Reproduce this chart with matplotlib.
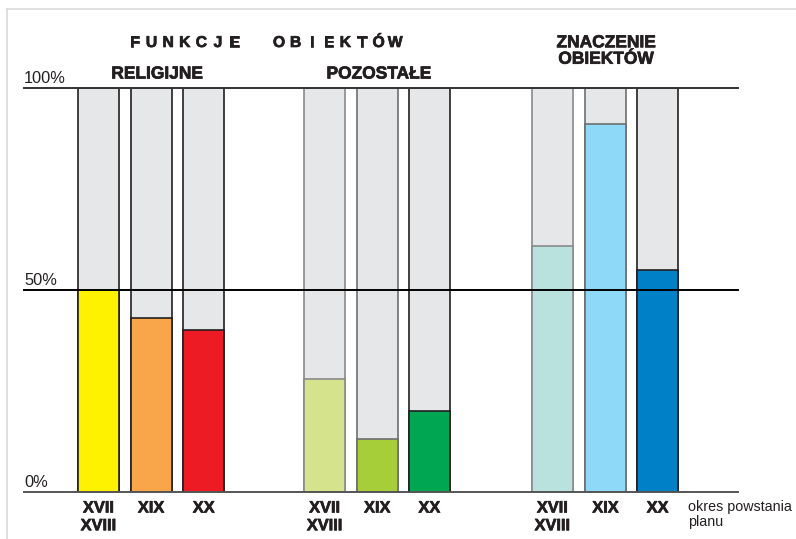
import matplotlib
matplotlib.use("Agg")
import matplotlib.pyplot as plt
from matplotlib.lines import Line2D
import matplotlib.patheffects as pe

plt.rcParams['font.family'] = ['Liberation Sans', 'DejaVu Sans']

# ---- data ----
periods = ["XVII\nXVIII", "XIX", "XX",
           "XVII\nXVIII", "XIX", "XX",
           "XVII\nXVIII", "XIX", "XX"]
values = [50, 43, 40, 28, 13, 20, 61, 91, 55]
group_titles = ["RELIGIJNE", "POZOSTAŁE", "ZNACZENIE\nOBIEKTÓW"]
main_title_words = ["FUNKCJE", "OBIEKTÓW"]
yticks = [0, 50, 100]
ytick_labels = ["0%", "50%", "100%"]
axis_note = "okres powstania\nplanu"

# ---- style ----
positions = [0, 1, 2, 4.3, 5.3, 6.29, 8.63, 9.64, 10.63]
colors = ["#FFF200", "#F9A54A", "#ED1C24",
          "#D5E38C", "#A6CE39", "#00A651",
          "#B9E2DE", "#8FD9F8", "#0081C7"]
edges = ["#231F20", "#231F20", "#231F20",
         "#8A8A8A", "#6D6E71", "#231F20",
         "#8A8A8A", "#6D6E71", "#231F20"]
bg_color = "#E6E7E8"
txt_col = "#231F20"
heavy = [pe.withStroke(linewidth=0.5, foreground=txt_col)]

W, H = 796, 539
fig = plt.figure(figsize=(W / 100, H / 100), dpi=100)

def fx(px):
    return px / W

def fy(py):
    return 1 - py / H

# frame lines of the picture
fig.add_artist(Line2D([fx(7), fx(7)], [fy(9), fy(539)], color="#D9D9D9", lw=1.2))
fig.add_artist(Line2D([fx(7), fx(796)], [fy(9), fy(9)], color="#D9D9D9", lw=1.2))

ax_left, ax_right = 24, 738
y0, y100 = 492, 88
ax = fig.add_axes([fx(ax_left), fy(y0), (ax_right - ax_left) / W, (y0 - y100) / H])
ax.set_xlim(-1.416, 12.16)
ax.set_ylim(0, 100)
ax.axis("off")

bw = 0.78
for x, v, c, e in zip(positions, values, colors, edges):
    ax.bar(x, 100, width=bw, color=bg_color, edgecolor=e, linewidth=1.2, zorder=2)
    ax.bar(x, v, width=bw, color=c, edgecolor=e, linewidth=1.2, zorder=3)

line_cols = {0: "#555555", 50: "#000000", 100: "#333333"}
for t in yticks:
    ax.axhline(t, color=line_cols[t], lw=1.4, zorder=4, clip_on=False)

# percentage labels
for t, lab in zip(yticks, ytick_labels):
    ax.text(-1.416, t + 0.6, lab, ha="left", va="bottom", fontsize=11.8,
            color=txt_col, zorder=5)

# period labels
for x, lab in zip(positions, periods):
    ax.text(x, -2.1, lab, ha="center", va="top", fontsize=11.8, fontweight="bold",
            linespacing=1.23, color=txt_col, path_effects=heavy)

ax.text(10.63 + 0.58, -2.0, axis_note, ha="left", va="top", fontsize=10.3,
        linespacing=1.05, color=txt_col)

# main title, letter-spaced
step = 16.6
for word, start in zip(main_title_words, [135, 279]):
    for i, ch in enumerate(word):
        fig.text(fx(start + i * step), fy(42.5), ch, ha="center", va="center",
                 fontsize=11.3, fontweight="bold", color=txt_col, path_effects=heavy)

fig.text(fx(157), fy(74), group_titles[0], ha="center", va="center", fontsize=12.5,
         fontweight="bold", color=txt_col, path_effects=heavy)
fig.text(fx(379), fy(74), group_titles[1], ha="center", va="center", fontsize=12.5,
         fontweight="bold", color=txt_col, path_effects=heavy)
fig.text(fx(606), fy(51), group_titles[2], ha="center", va="center", fontsize=12.5,
         fontweight="bold", linespacing=1.12, color=txt_col, path_effects=heavy)

fig.savefig("out.png", dpi=100)
